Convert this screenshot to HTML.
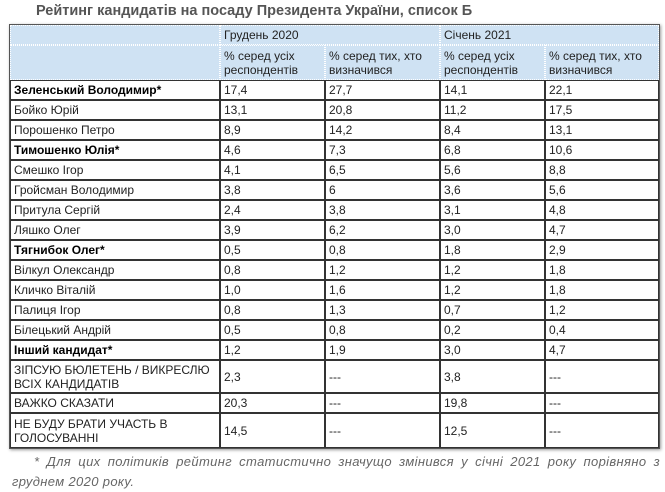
<!DOCTYPE html>
<html><head><meta charset="utf-8"><style>
body{margin:0;width:665px;height:492px;background:#fff;font-family:"Liberation Sans",Arial,sans-serif;position:relative;overflow:hidden}
.t{position:absolute;left:36px;top:3px;font-weight:bold;font-size:14.5px;color:#555}
.c{position:absolute;box-sizing:border-box;font-size:12px;color:#222;padding-left:3px;display:flex;align-items:center;line-height:14px}
.d{border:1px solid #333}
.h{background:#cfe2f3;border:1px dotted #fff}
.b{font-weight:bold;color:#000}
.f{position:absolute;left:12px;top:452px;width:648px;font-style:italic;font-size:13px;color:#666;line-height:20px;text-align:justify;text-indent:22px;letter-spacing:0.35px}
.frame{position:absolute;left:9px;top:24px;width:651px;height:425px;border:1px solid #555;box-shadow:1px 1px 3px #999;box-sizing:border-box}
</style></head><body>
<div class="t">Рейтинг кандидатів на посаду Президента України, список Б</div>
<div class="frame"></div>
<div id="g"></div>
<div class="f">* Для цих політиків рейтинг статистично значущо змінився у січні 2021 року порівняно з груднем 2020 року.</div>
<script>
var X=[10,220,325,440,545,659];
var rows=[
["Зеленський Володимир*","17,4","27,7","14,1","22,1",1],
["Бойко Юрій","13,1","20,8","11,2","17,5"],
["Порошенко Петро","8,9","14,2","8,4","13,1"],
["Тимошенко Юлія*","4,6","7,3","6,8","10,6",1],
["Смешко Ігор","4,1","6,5","5,6","8,8"],
["Гройсман Володимир","3,8","6","3,6","5,6"],
["Притула Сергій","2,4","3,8","3,1","4,8"],
["Ляшко Олег","3,9","6,2","3,0","4,7"],
["Тягнибок Олег*","0,5","0,8","1,8","2,9",1],
["Вілкул Олександр","0,8","1,2","1,2","1,8"],
["Кличко Віталій","1,0","1,6","1,2","1,8"],
["Палиця Ігор","0,8","1,3","0,7","1,2"],
["Білецький Андрій","0,5","0,8","0,2","0,4"],
["Інший кандидат*","1,2","1,9","3,0","4,7",1],
["ЗІПСУЮ БЮЛЕТЕНЬ / ВИКРЕСЛЮ ВСІХ КАНДИДАТІВ","2,3","---","3,8","---"],
["ВАЖКО СКАЗАТИ","20,3","---","19,8","---"],
["НЕ БУДУ БРАТИ УЧАСТЬ В ГОЛОСУВАННІ","14,5","---","12,5","---"]];
var Y=[80,100,120,140,160,180,200,220,240,260,280,300,320,340,360,393,413,448];
var h='';
function cell(x0,x1,y0,y1,cls,txt){h+='<div class="c '+cls+'" style="left:'+x0+'px;top:'+y0+'px;width:'+(x1-x0)+'px;height:'+(y1-y0)+'px">'+txt+'</div>';}
cell(10,220,25,45,'h','');cell(220,440,25,45,'h','Грудень 2020');cell(440,659,25,45,'h','Січень 2021');
cell(10,220,45,80,'h','');
var hd=['% серед усіх<br>респондентів','% серед тих, хто<br>визначився'];
for(var i=0;i<4;i++)cell(X[i+1],X[i+2],45,80,'h',hd[i%2]);
rows.forEach(function(r,j){for(var i=0;i<5;i++){var txt=r[i];if(j==14&&i==0)txt='ЗІПСУЮ БЮЛЕТЕНЬ / ВИКРЕСЛЮ<br>ВСІХ КАНДИДАТІВ';if(j==16&&i==0)txt='НЕ БУДУ БРАТИ УЧАСТЬ В<br>ГОЛОСУВАННІ';cell(X[i],X[i+1],Y[j],Y[j+1],'d'+(r[5]&&i==0?' b':''),txt);}});
document.getElementById('g').innerHTML=h;
</script>
</body></html>
